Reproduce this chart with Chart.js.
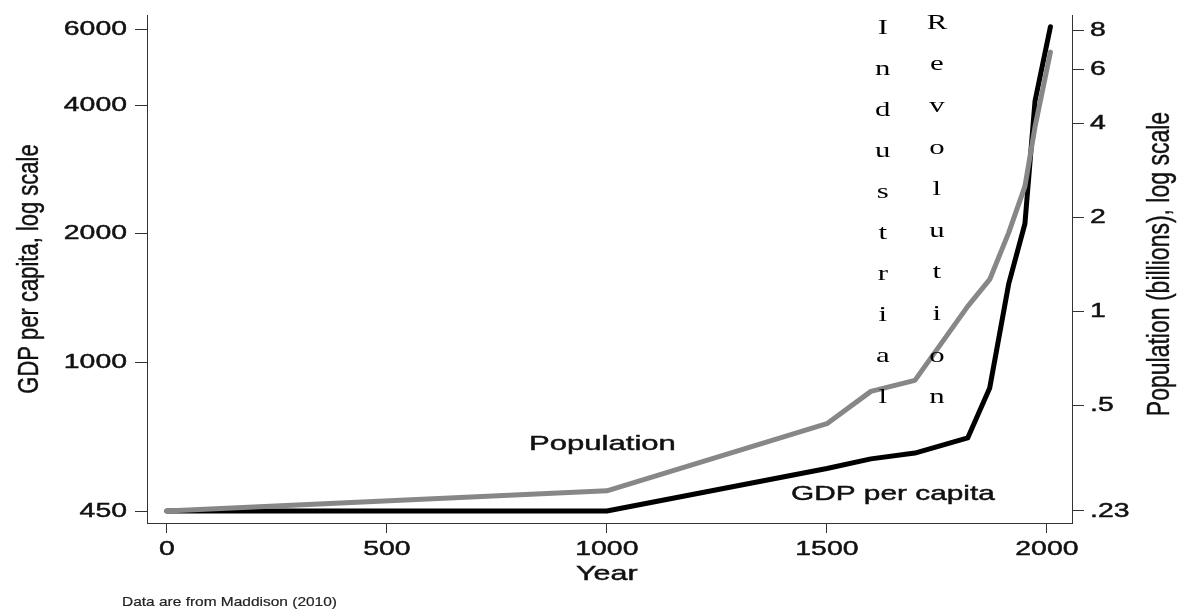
<!DOCTYPE html>
<html>
<head>
<meta charset="utf-8">
<script src="https://cdn.jsdelivr.net/npm/chart.js"></script>
<style>
  body { margin: 0; background: #fff; }
  #wrap { width: 1182px; height: 612px; position: relative; }
</style>
</head>
<body>
<div id="wrap"><canvas id="myChart"></canvas></div>
<script>
// Maddison (2010), world totals
var years = [0, 1000, 1500, 1600, 1700, 1820, 1870, 1913, 1950, 1973, 2008];
var gdp = [450, 450, 566, 596, 615, 667, 873, 1526, 2113, 4091, 6100];
var pop = [0.23, 0.267, 0.438, 0.556, 0.603, 1.041, 1.27, 1.791, 2.525, 3.916, 6.8];

var xTicks = [0, 500, 1000, 1500, 2000];
var gdpTicks = [450, 1000, 2000, 4000, 6000];
var popTicks = [0.23, 0.5, 1, 2, 4, 6, 8];
var popTickLabels = ['.23', '.5', '1', '2', '4', '6', '8'];

const sans = "'Liberation Sans', Arial, Helvetica, sans-serif";
const serif = "'Liberation Serif', 'Times New Roman', serif";
const SX = 1.42; // the original is stretched sideways

const ctx = document.getElementById('myChart');

// horizontal text, widened (a light stroke gives the heavier look of the original)
function wideText(c, txt, x, y, size, family, align, sx, heavy) {
  c.save();
  c.translate(x, y);
  c.scale(sx || SX, 1);
  c.font = size + 'px ' + family;
  c.textAlign = align;
  c.textBaseline = 'middle';
  c.fillText(txt, 0, 0);
  if (heavy) {
    c.strokeStyle = c.fillStyle;
    c.lineWidth = heavy;
    c.strokeText(txt, 0, 0);
  }
  c.restore();
}

// rotated title, reads bottom to top
function upText(c, txt, x, y, size) {
  c.save();
  c.translate(x, y);
  c.rotate(-Math.PI / 2);
  c.scale(1, 1.38);
  c.font = size + 'px ' + sans;
  c.textAlign = 'center';
  c.textBaseline = 'middle';
  c.fillText(txt, 0, 0);
  c.strokeStyle = c.fillStyle;
  c.lineWidth = 0.3;
  c.strokeText(txt, 0, 0);
  c.restore();
}

const labels = {
  id: 'labels',
  afterDraw(chart) {
    const c = chart.ctx;
    const x = chart.scales.x;
    const y = chart.scales.y;
    const y1 = chart.scales.y1;
    const area = chart.chartArea;
    c.save();
    c.fillStyle = '#111';

    // tick labels
    gdpTicks.forEach(v => wideText(c, String(v), y.left + y.width - 20, y.getPixelForValue(v), 20, sans, 'right', SX, 0.45));
    popTicks.forEach((v, i) => wideText(c, popTickLabels[i], area.right + 18, y1.getPixelForValue(v), 20, sans, 'left', SX, 0.45));
    xTicks.forEach(v => wideText(c, String(v), x.getPixelForValue(v), area.bottom + 26, 20, sans, 'center', SX, 0.45));

    // axis titles
    wideText(c, 'Year', x.getPixelForValue(1000), area.bottom + 51, 21, sans, 'center', 1.45, 0.45);
    upText(c, 'GDP per capita, log scale', 30, (area.top + area.bottom) / 2, 22);
    upText(c, 'Population (billions), log scale', 1160, 264, 23);

    // series labels
    wideText(c, 'Population', x.getPixelForValue(990), 444, 21, sans, 'center', 1.48, 0.45);
    wideText(c, 'GDP per capita', x.getPixelForValue(1650), 494, 21, sans, 'center', 1.42, 0.45);

    // Industrial Revolution, one letter per line
    c.fillStyle = '#000';
    'Industrial'.split('').forEach((ch, i) => {
      wideText(c, ch, x.getPixelForValue(1627), 28 + i * 41, 22, serif, 'center', 1.4);
    });
    'Revolution'.split('').forEach((ch, i) => {
      wideText(c, ch, x.getPixelForValue(1750), 23 + i * 41.6, 22, serif, 'center', 1.4);
    });

    c.fillStyle = '#222';
    wideText(c, 'Data are from Maddison (2010)', 122, 602, 13, sans, 'left', 1.19, 0.2);
    c.restore();
  }
};

new Chart(ctx, {
  type: 'line',
  data: {
    labels: years,
    datasets: [{
      label: 'GDP per capita',
      data: years.map((yr, i) => ({x: yr, y: gdp[i]})),
      yAxisID: 'y',
      borderColor: '#000',
      borderWidth: 5,
      order: 1
    }, {
      label: 'Population',
      data: years.map((yr, i) => ({x: yr, y: pop[i]})),
      yAxisID: 'y1',
      borderColor: '#878787',
      borderWidth: 5,
      order: 0
    }]
  },
  options: {
    responsive: true,
    maintainAspectRatio: false,
    animation: false,
    elements: {
      point: { radius: 0 },
      line: { tension: 0, borderCapStyle: 'round', borderJoinStyle: 'round' }
    },
    layout: { padding: { top: 15, left: 0, right: 0, bottom: 0 } },
    plugins: {
      legend: { display: false },
      tooltip: { enabled: false }
    },
    scales: {
      x: {
        type: 'linear',
        min: -45,
        max: 2057,
        afterBuildTicks: (s) => { s.ticks = xTicks.map(v => ({value: v})); },
        afterFit: (s) => { s.height = 89; },
        ticks: { display: false },
        grid: { drawOnChartArea: false, tickLength: 10, color: '#333' },
        border: { color: '#333', width: 1 }
      },
      y: {
        type: 'logarithmic',
        position: 'left',
        min: 422,
        max: 6500,
        afterBuildTicks: (s) => { s.ticks = gdpTicks.map(v => ({value: v})); },
        afterFit: (s) => { s.width = 147; },
        ticks: { display: false },
        grid: { drawOnChartArea: false, tickLength: 12, color: '#333' },
        border: { color: '#333', width: 1 }
      },
      y1: {
        type: 'logarithmic',
        position: 'right',
        min: 0.2105,
        max: 8.94,
        afterBuildTicks: (s) => { s.ticks = popTicks.map(v => ({value: v})); },
        afterFit: (s) => { s.width = 110; },
        ticks: { display: false },
        grid: { drawOnChartArea: false, tickLength: 12, color: '#333' },
        border: { color: '#333', width: 1 }
      }
    }
  },
  plugins: [labels]
});
</script>
</body>
</html>
